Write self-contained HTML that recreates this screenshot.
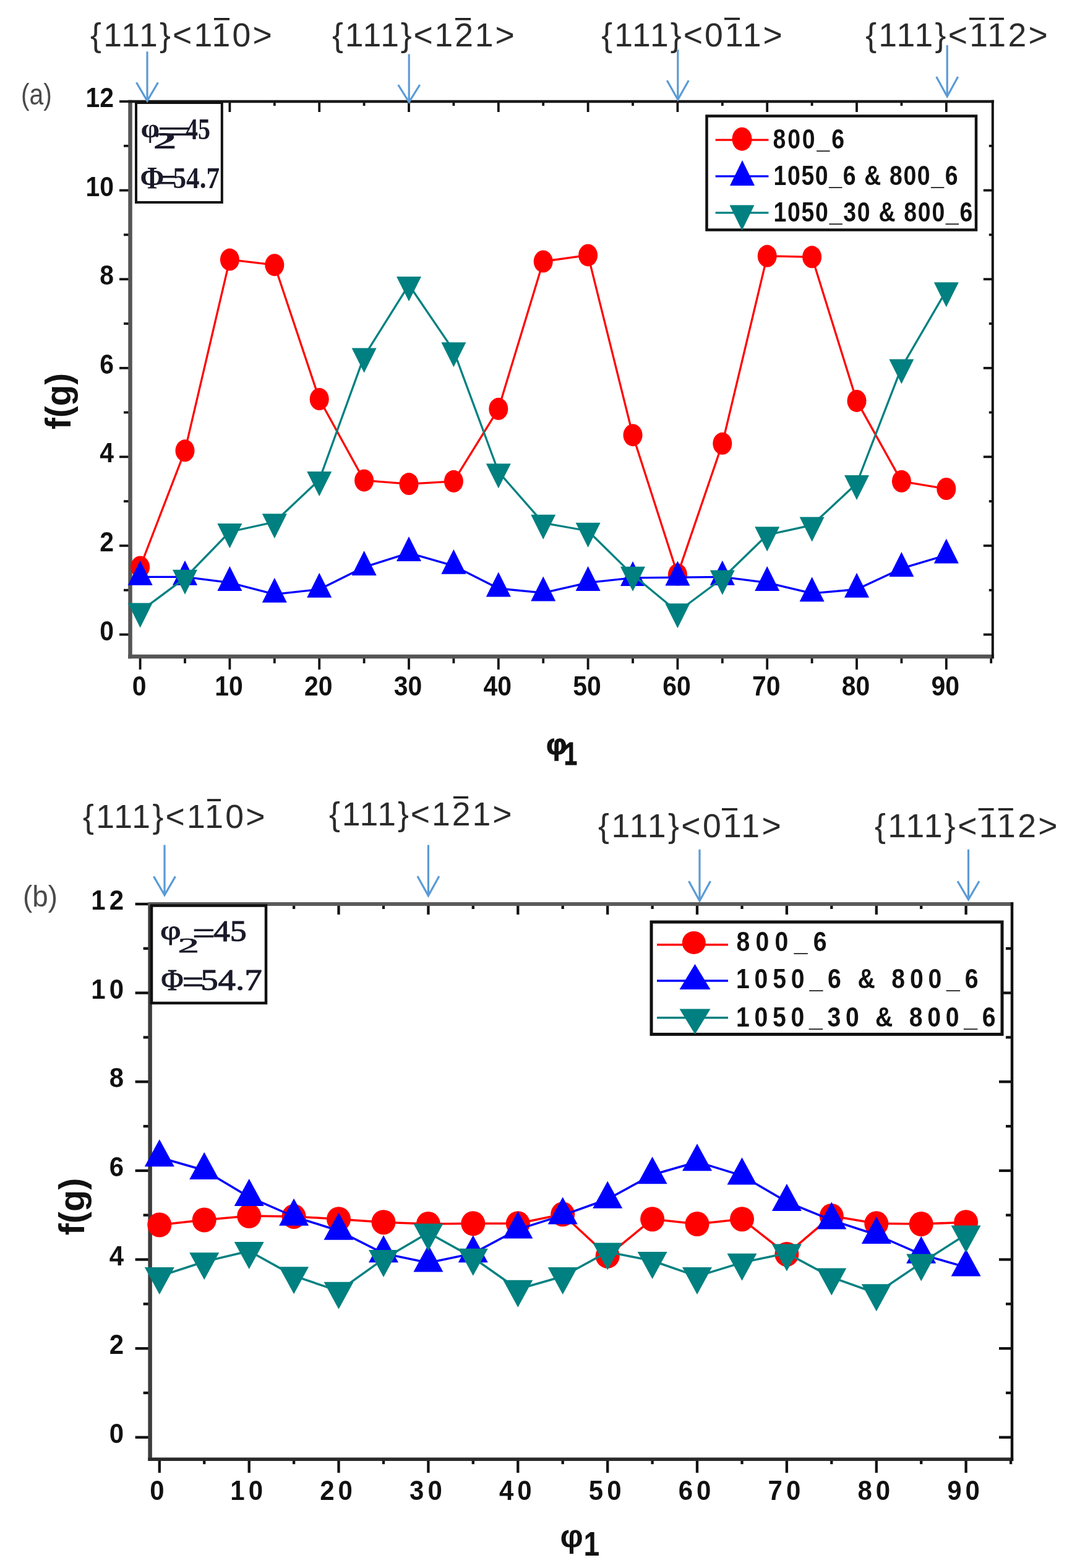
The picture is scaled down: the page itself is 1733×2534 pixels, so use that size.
<!DOCTYPE html>
<html><head><meta charset="utf-8"><title>ODF f(g) vs phi1</title>
<style>html,body{margin:0;padding:0;background:#fff;overflow:hidden;}svg{display:block;}</style>
</head><body>
<svg width="1733" height="2534" viewBox="0 0 1733 2534">
<rect x="0" y="0" width="1733" height="2534" fill="#fff"/>
<g font-family="Liberation Sans, Arial, sans-serif" font-weight="bold" font-size="44" fill="#111">
<line x1="226.6" y1="1061" x2="226.6" y2="1082" stroke="#111" stroke-width="3.8"/>
<line x1="226.6" y1="164" x2="226.6" y2="181" stroke="#111" stroke-width="3.8"/>
<line x1="299" y1="1061" x2="299" y2="1072" stroke="#111" stroke-width="3.8"/>
<line x1="299" y1="164" x2="299" y2="171" stroke="#111" stroke-width="3.8"/>
<line x1="371.4" y1="1061" x2="371.4" y2="1082" stroke="#111" stroke-width="3.8"/>
<line x1="371.4" y1="164" x2="371.4" y2="181" stroke="#111" stroke-width="3.8"/>
<line x1="443.8" y1="1061" x2="443.8" y2="1072" stroke="#111" stroke-width="3.8"/>
<line x1="443.8" y1="164" x2="443.8" y2="171" stroke="#111" stroke-width="3.8"/>
<line x1="516.2" y1="1061" x2="516.2" y2="1082" stroke="#111" stroke-width="3.8"/>
<line x1="516.2" y1="164" x2="516.2" y2="181" stroke="#111" stroke-width="3.8"/>
<line x1="588.6" y1="1061" x2="588.6" y2="1072" stroke="#111" stroke-width="3.8"/>
<line x1="588.6" y1="164" x2="588.6" y2="171" stroke="#111" stroke-width="3.8"/>
<line x1="661" y1="1061" x2="661" y2="1082" stroke="#111" stroke-width="3.8"/>
<line x1="661" y1="164" x2="661" y2="181" stroke="#111" stroke-width="3.8"/>
<line x1="733.4" y1="1061" x2="733.4" y2="1072" stroke="#111" stroke-width="3.8"/>
<line x1="733.4" y1="164" x2="733.4" y2="171" stroke="#111" stroke-width="3.8"/>
<line x1="805.8" y1="1061" x2="805.8" y2="1082" stroke="#111" stroke-width="3.8"/>
<line x1="805.8" y1="164" x2="805.8" y2="181" stroke="#111" stroke-width="3.8"/>
<line x1="878.2" y1="1061" x2="878.2" y2="1072" stroke="#111" stroke-width="3.8"/>
<line x1="878.2" y1="164" x2="878.2" y2="171" stroke="#111" stroke-width="3.8"/>
<line x1="950.6" y1="1061" x2="950.6" y2="1082" stroke="#111" stroke-width="3.8"/>
<line x1="950.6" y1="164" x2="950.6" y2="181" stroke="#111" stroke-width="3.8"/>
<line x1="1023" y1="1061" x2="1023" y2="1072" stroke="#111" stroke-width="3.8"/>
<line x1="1023" y1="164" x2="1023" y2="171" stroke="#111" stroke-width="3.8"/>
<line x1="1095.4" y1="1061" x2="1095.4" y2="1082" stroke="#111" stroke-width="3.8"/>
<line x1="1095.4" y1="164" x2="1095.4" y2="181" stroke="#111" stroke-width="3.8"/>
<line x1="1167.8" y1="1061" x2="1167.8" y2="1072" stroke="#111" stroke-width="3.8"/>
<line x1="1167.8" y1="164" x2="1167.8" y2="171" stroke="#111" stroke-width="3.8"/>
<line x1="1240.2" y1="1061" x2="1240.2" y2="1082" stroke="#111" stroke-width="3.8"/>
<line x1="1240.2" y1="164" x2="1240.2" y2="181" stroke="#111" stroke-width="3.8"/>
<line x1="1312.6" y1="1061" x2="1312.6" y2="1072" stroke="#111" stroke-width="3.8"/>
<line x1="1312.6" y1="164" x2="1312.6" y2="171" stroke="#111" stroke-width="3.8"/>
<line x1="1385" y1="1061" x2="1385" y2="1082" stroke="#111" stroke-width="3.8"/>
<line x1="1385" y1="164" x2="1385" y2="181" stroke="#111" stroke-width="3.8"/>
<line x1="1457.4" y1="1061" x2="1457.4" y2="1072" stroke="#111" stroke-width="3.8"/>
<line x1="1457.4" y1="164" x2="1457.4" y2="171" stroke="#111" stroke-width="3.8"/>
<line x1="1529.8" y1="1061" x2="1529.8" y2="1082" stroke="#111" stroke-width="3.8"/>
<line x1="1529.8" y1="164" x2="1529.8" y2="181" stroke="#111" stroke-width="3.8"/>
<line x1="1602.2" y1="1061" x2="1602.2" y2="1072" stroke="#111" stroke-width="3.8"/>
<line x1="193" y1="1025.5" x2="210.5" y2="1025.5" stroke="#111" stroke-width="3.8"/>
<line x1="1604.8" y1="1025.5" x2="1589.8" y2="1025.5" stroke="#111" stroke-width="3.8"/>
<line x1="200" y1="953.7" x2="210.5" y2="953.7" stroke="#111" stroke-width="3.8"/>
<line x1="1604.8" y1="953.7" x2="1598.8" y2="953.7" stroke="#111" stroke-width="3.8"/>
<line x1="193" y1="881.9" x2="210.5" y2="881.9" stroke="#111" stroke-width="3.8"/>
<line x1="1604.8" y1="881.9" x2="1589.8" y2="881.9" stroke="#111" stroke-width="3.8"/>
<line x1="200" y1="810.1" x2="210.5" y2="810.1" stroke="#111" stroke-width="3.8"/>
<line x1="1604.8" y1="810.1" x2="1598.8" y2="810.1" stroke="#111" stroke-width="3.8"/>
<line x1="193" y1="738.3" x2="210.5" y2="738.3" stroke="#111" stroke-width="3.8"/>
<line x1="1604.8" y1="738.3" x2="1589.8" y2="738.3" stroke="#111" stroke-width="3.8"/>
<line x1="200" y1="666.5" x2="210.5" y2="666.5" stroke="#111" stroke-width="3.8"/>
<line x1="1604.8" y1="666.5" x2="1598.8" y2="666.5" stroke="#111" stroke-width="3.8"/>
<line x1="193" y1="594.8" x2="210.5" y2="594.8" stroke="#111" stroke-width="3.8"/>
<line x1="1604.8" y1="594.8" x2="1589.8" y2="594.8" stroke="#111" stroke-width="3.8"/>
<line x1="200" y1="523" x2="210.5" y2="523" stroke="#111" stroke-width="3.8"/>
<line x1="1604.8" y1="523" x2="1598.8" y2="523" stroke="#111" stroke-width="3.8"/>
<line x1="193" y1="451.2" x2="210.5" y2="451.2" stroke="#111" stroke-width="3.8"/>
<line x1="1604.8" y1="451.2" x2="1589.8" y2="451.2" stroke="#111" stroke-width="3.8"/>
<line x1="200" y1="379.4" x2="210.5" y2="379.4" stroke="#111" stroke-width="3.8"/>
<line x1="1604.8" y1="379.4" x2="1598.8" y2="379.4" stroke="#111" stroke-width="3.8"/>
<line x1="193" y1="307.6" x2="210.5" y2="307.6" stroke="#111" stroke-width="3.8"/>
<line x1="1604.8" y1="307.6" x2="1589.8" y2="307.6" stroke="#111" stroke-width="3.8"/>
<line x1="200" y1="235.8" x2="210.5" y2="235.8" stroke="#111" stroke-width="3.8"/>
<line x1="1604.8" y1="235.8" x2="1598.8" y2="235.8" stroke="#111" stroke-width="3.8"/>
<line x1="193" y1="164" x2="210.5" y2="164" stroke="#111" stroke-width="3.8"/>
<line x1="210.5" y1="161.8" x2="210.5" y2="1064.2" stroke="#555" stroke-width="6.5"/>
<line x1="207.2" y1="1061" x2="1606.8" y2="1061" stroke="#555" stroke-width="6.5"/>
<line x1="207.2" y1="164" x2="1606.8" y2="164" stroke="#1a1a1a" stroke-width="4.5"/>
<line x1="1604.8" y1="161.8" x2="1604.8" y2="1064.2" stroke="#111" stroke-width="4"/>
<text transform="translate(225.1,1124) scale(0.93,1)" text-anchor="middle" style="letter-spacing:0.00px">0</text>
<text transform="translate(369.9,1124) scale(0.93,1)" text-anchor="middle" style="letter-spacing:0.00px">10</text>
<text transform="translate(514.7,1124) scale(0.93,1)" text-anchor="middle" style="letter-spacing:0.00px">20</text>
<text transform="translate(659.5,1124) scale(0.93,1)" text-anchor="middle" style="letter-spacing:0.00px">30</text>
<text transform="translate(804.3,1124) scale(0.93,1)" text-anchor="middle" style="letter-spacing:0.00px">40</text>
<text transform="translate(949.1,1124) scale(0.93,1)" text-anchor="middle" style="letter-spacing:0.00px">50</text>
<text transform="translate(1093.9,1124) scale(0.93,1)" text-anchor="middle" style="letter-spacing:0.00px">60</text>
<text transform="translate(1238.7,1124) scale(0.93,1)" text-anchor="middle" style="letter-spacing:0.00px">70</text>
<text transform="translate(1383.5,1124) scale(0.93,1)" text-anchor="middle" style="letter-spacing:0.00px">80</text>
<text transform="translate(1528.3,1124) scale(0.93,1)" text-anchor="middle" style="letter-spacing:0.00px">90</text>
<text transform="translate(184,1034.5) scale(0.93,1)" text-anchor="end" style="letter-spacing:0.00px">0</text>
<text transform="translate(184,890.9) scale(0.93,1)" text-anchor="end" style="letter-spacing:0.00px">2</text>
<text transform="translate(184,747.3) scale(0.93,1)" text-anchor="end" style="letter-spacing:0.00px">4</text>
<text transform="translate(184,603.8) scale(0.93,1)" text-anchor="end" style="letter-spacing:0.00px">6</text>
<text transform="translate(184,460.2) scale(0.93,1)" text-anchor="end" style="letter-spacing:0.00px">8</text>
<text transform="translate(184,316.6) scale(0.93,1)" text-anchor="end" style="letter-spacing:0.00px">10</text>
<text transform="translate(184,173) scale(0.93,1)" text-anchor="end" style="letter-spacing:0.00px">12</text>
</g>
<polyline points="226.6,916.4 299,728.3 371.4,419.6 443.8,428.2 516.2,645 588.6,776.4 661,782.1 733.4,777.8 805.8,660.8 878.2,422.5 950.6,412.4 1023,703.2 1095.4,928.6 1167.8,716.8 1240.2,413.8 1312.6,415.3 1385,647.9 1457.4,777.8 1529.8,790" fill="none" stroke="#ff0000" stroke-width="3.3" stroke-linejoin="round"/>
<ellipse cx="226.6" cy="916.4" rx="15.5" ry="18" fill="#ff0000"/>
<ellipse cx="299" cy="728.3" rx="15.5" ry="18" fill="#ff0000"/>
<ellipse cx="371.4" cy="419.6" rx="15.5" ry="18" fill="#ff0000"/>
<ellipse cx="443.8" cy="428.2" rx="15.5" ry="18" fill="#ff0000"/>
<ellipse cx="516.2" cy="645" rx="15.5" ry="18" fill="#ff0000"/>
<ellipse cx="588.6" cy="776.4" rx="15.5" ry="18" fill="#ff0000"/>
<ellipse cx="661" cy="782.1" rx="15.5" ry="18" fill="#ff0000"/>
<ellipse cx="733.4" cy="777.8" rx="15.5" ry="18" fill="#ff0000"/>
<ellipse cx="805.8" cy="660.8" rx="15.5" ry="18" fill="#ff0000"/>
<ellipse cx="878.2" cy="422.5" rx="15.5" ry="18" fill="#ff0000"/>
<ellipse cx="950.6" cy="412.4" rx="15.5" ry="18" fill="#ff0000"/>
<ellipse cx="1023" cy="703.2" rx="15.5" ry="18" fill="#ff0000"/>
<ellipse cx="1095.4" cy="928.6" rx="15.5" ry="18" fill="#ff0000"/>
<ellipse cx="1167.8" cy="716.8" rx="15.5" ry="18" fill="#ff0000"/>
<ellipse cx="1240.2" cy="413.8" rx="15.5" ry="18" fill="#ff0000"/>
<ellipse cx="1312.6" cy="415.3" rx="15.5" ry="18" fill="#ff0000"/>
<ellipse cx="1385" cy="647.9" rx="15.5" ry="18" fill="#ff0000"/>
<ellipse cx="1457.4" cy="777.8" rx="15.5" ry="18" fill="#ff0000"/>
<ellipse cx="1529.8" cy="790" rx="15.5" ry="18" fill="#ff0000"/>
<polyline points="226.6,932.4 299,932.4 371.4,941.7 443.8,960.4 516.2,952.5 588.6,916.6 661,893.6 733.4,914.4 805.8,951 878.2,958.2 950.6,941.7 1023,933.8 1095.4,933.1 1167.8,932.4 1240.2,941.7 1312.6,958.9 1385,952.5 1457.4,918.7 1529.8,897.2" fill="none" stroke="#0000ff" stroke-width="3.3" stroke-linejoin="round"/>
<polygon points="226.6,905.7 246.6,945.7 206.6,945.7" fill="#0000ff"/>
<polygon points="299,905.7 319,945.7 279,945.7" fill="#0000ff"/>
<polygon points="371.4,915 391.4,955 351.4,955" fill="#0000ff"/>
<polygon points="443.8,933.7 463.8,973.7 423.8,973.7" fill="#0000ff"/>
<polygon points="516.2,925.8 536.2,965.8 496.2,965.8" fill="#0000ff"/>
<polygon points="588.6,889.9 608.6,929.9 568.6,929.9" fill="#0000ff"/>
<polygon points="661,866.9 681,906.9 641,906.9" fill="#0000ff"/>
<polygon points="733.4,887.8 753.4,927.8 713.4,927.8" fill="#0000ff"/>
<polygon points="805.8,924.4 825.8,964.4 785.8,964.4" fill="#0000ff"/>
<polygon points="878.2,931.6 898.2,971.6 858.2,971.6" fill="#0000ff"/>
<polygon points="950.6,915 970.6,955 930.6,955" fill="#0000ff"/>
<polygon points="1023,907.1 1043,947.1 1003,947.1" fill="#0000ff"/>
<polygon points="1095.4,906.4 1115.4,946.4 1075.4,946.4" fill="#0000ff"/>
<polygon points="1167.8,905.7 1187.8,945.7 1147.8,945.7" fill="#0000ff"/>
<polygon points="1240.2,915 1260.2,955 1220.2,955" fill="#0000ff"/>
<polygon points="1312.6,932.3 1332.6,972.3 1292.6,972.3" fill="#0000ff"/>
<polygon points="1385,925.8 1405,965.8 1365,965.8" fill="#0000ff"/>
<polygon points="1457.4,892.1 1477.4,932.1 1437.4,932.1" fill="#0000ff"/>
<polygon points="1529.8,870.5 1549.8,910.5 1509.8,910.5" fill="#0000ff"/>
<polyline points="226.6,988 299,934.1 371.4,859.5 443.8,843.7 516.2,775.5 588.6,575.9 661,460.3 733.4,566.6 805.8,762.5 878.2,845.1 950.6,858 1023,929.1 1095.4,988.7 1167.8,934.8 1240.2,864.5 1312.6,848.7 1385,781.2 1457.4,593.8 1529.8,469.6" fill="none" stroke="#008080" stroke-width="3.3" stroke-linejoin="round"/>
<polygon points="206.6,974.6 246.6,974.6 226.6,1014.6" fill="#008080"/>
<polygon points="279,920.8 319,920.8 299,960.8" fill="#008080"/>
<polygon points="351.4,846.1 391.4,846.1 371.4,886.1" fill="#008080"/>
<polygon points="423.8,830.3 463.8,830.3 443.8,870.3" fill="#008080"/>
<polygon points="496.2,762.1 536.2,762.1 516.2,802.1" fill="#008080"/>
<polygon points="568.6,562.6 608.6,562.6 588.6,602.6" fill="#008080"/>
<polygon points="641,447 681,447 661,487" fill="#008080"/>
<polygon points="713.4,553.2 753.4,553.2 733.4,593.2" fill="#008080"/>
<polygon points="785.8,749.2 825.8,749.2 805.8,789.2" fill="#008080"/>
<polygon points="858.2,831.8 898.2,831.8 878.2,871.8" fill="#008080"/>
<polygon points="930.6,844.7 970.6,844.7 950.6,884.7" fill="#008080"/>
<polygon points="1003,915.8 1043,915.8 1023,955.8" fill="#008080"/>
<polygon points="1075.4,975.3 1115.4,975.3 1095.4,1015.3" fill="#008080"/>
<polygon points="1147.8,921.5 1187.8,921.5 1167.8,961.5" fill="#008080"/>
<polygon points="1220.2,851.2 1260.2,851.2 1240.2,891.2" fill="#008080"/>
<polygon points="1292.6,835.4 1332.6,835.4 1312.6,875.4" fill="#008080"/>
<polygon points="1365,767.9 1405,767.9 1385,807.9" fill="#008080"/>
<polygon points="1437.4,580.5 1477.4,580.5 1457.4,620.5" fill="#008080"/>
<polygon points="1509.8,456.3 1549.8,456.3 1529.8,496.3" fill="#008080"/>
<g font-family="Liberation Sans, Arial, sans-serif" font-weight="bold" font-size="45" fill="#111">
<line x1="257.8" y1="2358.2" x2="257.8" y2="2380.2" stroke="#111" stroke-width="4.3"/>
<line x1="257.8" y1="1461" x2="257.8" y2="1478" stroke="#111" stroke-width="4.3"/>
<line x1="330.2" y1="2358.2" x2="330.2" y2="2366.2" stroke="#111" stroke-width="4.3"/>
<line x1="330.2" y1="1461" x2="330.2" y2="1469" stroke="#111" stroke-width="4.3"/>
<line x1="402.7" y1="2358.2" x2="402.7" y2="2380.2" stroke="#111" stroke-width="4.3"/>
<line x1="402.7" y1="1461" x2="402.7" y2="1478" stroke="#111" stroke-width="4.3"/>
<line x1="475.1" y1="2358.2" x2="475.1" y2="2366.2" stroke="#111" stroke-width="4.3"/>
<line x1="475.1" y1="1461" x2="475.1" y2="1469" stroke="#111" stroke-width="4.3"/>
<line x1="547.5" y1="2358.2" x2="547.5" y2="2380.2" stroke="#111" stroke-width="4.3"/>
<line x1="547.5" y1="1461" x2="547.5" y2="1478" stroke="#111" stroke-width="4.3"/>
<line x1="620" y1="2358.2" x2="620" y2="2366.2" stroke="#111" stroke-width="4.3"/>
<line x1="620" y1="1461" x2="620" y2="1469" stroke="#111" stroke-width="4.3"/>
<line x1="692.4" y1="2358.2" x2="692.4" y2="2380.2" stroke="#111" stroke-width="4.3"/>
<line x1="692.4" y1="1461" x2="692.4" y2="1478" stroke="#111" stroke-width="4.3"/>
<line x1="764.8" y1="2358.2" x2="764.8" y2="2366.2" stroke="#111" stroke-width="4.3"/>
<line x1="764.8" y1="1461" x2="764.8" y2="1469" stroke="#111" stroke-width="4.3"/>
<line x1="837.3" y1="2358.2" x2="837.3" y2="2380.2" stroke="#111" stroke-width="4.3"/>
<line x1="837.3" y1="1461" x2="837.3" y2="1478" stroke="#111" stroke-width="4.3"/>
<line x1="909.7" y1="2358.2" x2="909.7" y2="2366.2" stroke="#111" stroke-width="4.3"/>
<line x1="909.7" y1="1461" x2="909.7" y2="1469" stroke="#111" stroke-width="4.3"/>
<line x1="982.2" y1="2358.2" x2="982.2" y2="2380.2" stroke="#111" stroke-width="4.3"/>
<line x1="982.2" y1="1461" x2="982.2" y2="1478" stroke="#111" stroke-width="4.3"/>
<line x1="1054.6" y1="2358.2" x2="1054.6" y2="2366.2" stroke="#111" stroke-width="4.3"/>
<line x1="1054.6" y1="1461" x2="1054.6" y2="1469" stroke="#111" stroke-width="4.3"/>
<line x1="1127" y1="2358.2" x2="1127" y2="2380.2" stroke="#111" stroke-width="4.3"/>
<line x1="1127" y1="1461" x2="1127" y2="1478" stroke="#111" stroke-width="4.3"/>
<line x1="1199.5" y1="2358.2" x2="1199.5" y2="2366.2" stroke="#111" stroke-width="4.3"/>
<line x1="1199.5" y1="1461" x2="1199.5" y2="1469" stroke="#111" stroke-width="4.3"/>
<line x1="1271.9" y1="2358.2" x2="1271.9" y2="2380.2" stroke="#111" stroke-width="4.3"/>
<line x1="1271.9" y1="1461" x2="1271.9" y2="1478" stroke="#111" stroke-width="4.3"/>
<line x1="1344.3" y1="2358.2" x2="1344.3" y2="2366.2" stroke="#111" stroke-width="4.3"/>
<line x1="1344.3" y1="1461" x2="1344.3" y2="1469" stroke="#111" stroke-width="4.3"/>
<line x1="1416.8" y1="2358.2" x2="1416.8" y2="2380.2" stroke="#111" stroke-width="4.3"/>
<line x1="1416.8" y1="1461" x2="1416.8" y2="1478" stroke="#111" stroke-width="4.3"/>
<line x1="1489.2" y1="2358.2" x2="1489.2" y2="2366.2" stroke="#111" stroke-width="4.3"/>
<line x1="1489.2" y1="1461" x2="1489.2" y2="1469" stroke="#111" stroke-width="4.3"/>
<line x1="1561.6" y1="2358.2" x2="1561.6" y2="2380.2" stroke="#111" stroke-width="4.3"/>
<line x1="1561.6" y1="1461" x2="1561.6" y2="1478" stroke="#111" stroke-width="4.3"/>
<line x1="1634.1" y1="2358.2" x2="1634.1" y2="2366.2" stroke="#111" stroke-width="4.3"/>
<line x1="218.6" y1="2322.8" x2="242.6" y2="2322.8" stroke="#111" stroke-width="4.3"/>
<line x1="1636" y1="2322.8" x2="1615" y2="2322.8" stroke="#111" stroke-width="4.3"/>
<line x1="231.6" y1="2251" x2="242.6" y2="2251" stroke="#111" stroke-width="4.3"/>
<line x1="1636" y1="2251" x2="1626" y2="2251" stroke="#111" stroke-width="4.3"/>
<line x1="218.6" y1="2179.2" x2="242.6" y2="2179.2" stroke="#111" stroke-width="4.3"/>
<line x1="1636" y1="2179.2" x2="1615" y2="2179.2" stroke="#111" stroke-width="4.3"/>
<line x1="231.6" y1="2107.3" x2="242.6" y2="2107.3" stroke="#111" stroke-width="4.3"/>
<line x1="1636" y1="2107.3" x2="1626" y2="2107.3" stroke="#111" stroke-width="4.3"/>
<line x1="218.6" y1="2035.5" x2="242.6" y2="2035.5" stroke="#111" stroke-width="4.3"/>
<line x1="1636" y1="2035.5" x2="1615" y2="2035.5" stroke="#111" stroke-width="4.3"/>
<line x1="231.6" y1="1963.7" x2="242.6" y2="1963.7" stroke="#111" stroke-width="4.3"/>
<line x1="1636" y1="1963.7" x2="1626" y2="1963.7" stroke="#111" stroke-width="4.3"/>
<line x1="218.6" y1="1891.9" x2="242.6" y2="1891.9" stroke="#111" stroke-width="4.3"/>
<line x1="1636" y1="1891.9" x2="1615" y2="1891.9" stroke="#111" stroke-width="4.3"/>
<line x1="231.6" y1="1820.1" x2="242.6" y2="1820.1" stroke="#111" stroke-width="4.3"/>
<line x1="1636" y1="1820.1" x2="1626" y2="1820.1" stroke="#111" stroke-width="4.3"/>
<line x1="218.6" y1="1748.2" x2="242.6" y2="1748.2" stroke="#111" stroke-width="4.3"/>
<line x1="1636" y1="1748.2" x2="1615" y2="1748.2" stroke="#111" stroke-width="4.3"/>
<line x1="231.6" y1="1676.4" x2="242.6" y2="1676.4" stroke="#111" stroke-width="4.3"/>
<line x1="1636" y1="1676.4" x2="1626" y2="1676.4" stroke="#111" stroke-width="4.3"/>
<line x1="218.6" y1="1604.6" x2="242.6" y2="1604.6" stroke="#111" stroke-width="4.3"/>
<line x1="1636" y1="1604.6" x2="1615" y2="1604.6" stroke="#111" stroke-width="4.3"/>
<line x1="231.6" y1="1532.8" x2="242.6" y2="1532.8" stroke="#111" stroke-width="4.3"/>
<line x1="1636" y1="1532.8" x2="1626" y2="1532.8" stroke="#111" stroke-width="4.3"/>
<line x1="218.6" y1="1461" x2="242.6" y2="1461" stroke="#111" stroke-width="4.3"/>
<line x1="242.6" y1="1458" x2="242.6" y2="2360.9" stroke="#3c3c3c" stroke-width="6.5"/>
<line x1="239.3" y1="2358.2" x2="1638.2" y2="2358.2" stroke="#2a2a2a" stroke-width="5.5"/>
<line x1="239.3" y1="1461" x2="1638.2" y2="1461" stroke="#5a5a5a" stroke-width="6"/>
<line x1="1636" y1="1458" x2="1636" y2="2360.9" stroke="#111" stroke-width="4.5"/>
<text transform="translate(256.8,2424) scale(0.933,1)" text-anchor="middle" style="letter-spacing:6.43px">0</text>
<text transform="translate(401.7,2424) scale(0.933,1)" text-anchor="middle" style="letter-spacing:6.43px">10</text>
<text transform="translate(546.5,2424) scale(0.933,1)" text-anchor="middle" style="letter-spacing:6.43px">20</text>
<text transform="translate(691.4,2424) scale(0.933,1)" text-anchor="middle" style="letter-spacing:6.43px">30</text>
<text transform="translate(836.3,2424) scale(0.933,1)" text-anchor="middle" style="letter-spacing:6.43px">40</text>
<text transform="translate(981.2,2424) scale(0.933,1)" text-anchor="middle" style="letter-spacing:6.43px">50</text>
<text transform="translate(1126,2424) scale(0.933,1)" text-anchor="middle" style="letter-spacing:6.43px">60</text>
<text transform="translate(1270.9,2424) scale(0.933,1)" text-anchor="middle" style="letter-spacing:6.43px">70</text>
<text transform="translate(1415.8,2424) scale(0.933,1)" text-anchor="middle" style="letter-spacing:6.43px">80</text>
<text transform="translate(1560.6,2424) scale(0.933,1)" text-anchor="middle" style="letter-spacing:6.43px">90</text>
<text transform="translate(206,2331.8) scale(0.933,1)" text-anchor="end" style="letter-spacing:6.43px">0</text>
<text transform="translate(206,2188.2) scale(0.933,1)" text-anchor="end" style="letter-spacing:6.43px">2</text>
<text transform="translate(206,2044.5) scale(0.933,1)" text-anchor="end" style="letter-spacing:6.43px">4</text>
<text transform="translate(206,1900.9) scale(0.933,1)" text-anchor="end" style="letter-spacing:6.43px">6</text>
<text transform="translate(206,1757.2) scale(0.933,1)" text-anchor="end" style="letter-spacing:6.43px">8</text>
<text transform="translate(206,1613.6) scale(0.933,1)" text-anchor="end" style="letter-spacing:6.43px">10</text>
<text transform="translate(206,1470) scale(0.933,1)" text-anchor="end" style="letter-spacing:6.43px">12</text>
</g>
<polyline points="257.8,1979.5 330.2,1971.6 402.7,1965.1 475.1,1965.9 547.5,1970.2 620,1975.2 692.4,1978.1 764.8,1977.3 837.3,1977.3 909.7,1962.3 982.2,2029.8 1054.6,1970.2 1127,1978.1 1199.5,1970.2 1271.9,2026.9 1344.3,1965.1 1416.8,1977.3 1489.2,1978.1 1561.6,1975.2" fill="none" stroke="#ff0000" stroke-width="3.5" stroke-linejoin="round"/>
<ellipse cx="257.8" cy="1979.5" rx="19.5" ry="20" fill="#ff0000"/>
<ellipse cx="330.2" cy="1971.6" rx="19.5" ry="20" fill="#ff0000"/>
<ellipse cx="402.7" cy="1965.1" rx="19.5" ry="20" fill="#ff0000"/>
<ellipse cx="475.1" cy="1965.9" rx="19.5" ry="20" fill="#ff0000"/>
<ellipse cx="547.5" cy="1970.2" rx="19.5" ry="20" fill="#ff0000"/>
<ellipse cx="620" cy="1975.2" rx="19.5" ry="20" fill="#ff0000"/>
<ellipse cx="692.4" cy="1978.1" rx="19.5" ry="20" fill="#ff0000"/>
<ellipse cx="764.8" cy="1977.3" rx="19.5" ry="20" fill="#ff0000"/>
<ellipse cx="837.3" cy="1977.3" rx="19.5" ry="20" fill="#ff0000"/>
<ellipse cx="909.7" cy="1962.3" rx="19.5" ry="20" fill="#ff0000"/>
<ellipse cx="982.2" cy="2029.8" rx="19.5" ry="20" fill="#ff0000"/>
<ellipse cx="1054.6" cy="1970.2" rx="19.5" ry="20" fill="#ff0000"/>
<ellipse cx="1127" cy="1978.1" rx="19.5" ry="20" fill="#ff0000"/>
<ellipse cx="1199.5" cy="1970.2" rx="19.5" ry="20" fill="#ff0000"/>
<ellipse cx="1271.9" cy="2026.9" rx="19.5" ry="20" fill="#ff0000"/>
<ellipse cx="1344.3" cy="1965.1" rx="19.5" ry="20" fill="#ff0000"/>
<ellipse cx="1416.8" cy="1977.3" rx="19.5" ry="20" fill="#ff0000"/>
<ellipse cx="1489.2" cy="1978.1" rx="19.5" ry="20" fill="#ff0000"/>
<ellipse cx="1561.6" cy="1975.2" rx="19.5" ry="20" fill="#ff0000"/>
<polyline points="257.8,1870.5 330.2,1891.3 402.7,1934.4 475.1,1966 547.5,1989 620,2025.6 692.4,2040.7 764.8,2025.6 837.3,1986.8 909.7,1963.9 982.2,1938 1054.6,1898.5 1127,1877.7 1199.5,1899.9 1271.9,1942.3 1344.3,1971.8 1416.8,1995.5 1489.2,2027.1 1561.6,2047.9" fill="none" stroke="#0000ff" stroke-width="3.5" stroke-linejoin="round"/>
<polygon points="257.8,1841.2 281.8,1885.2 233.8,1885.2" fill="#0000ff"/>
<polygon points="330.2,1862 354.2,1906 306.2,1906" fill="#0000ff"/>
<polygon points="402.7,1905.1 426.7,1949.1 378.7,1949.1" fill="#0000ff"/>
<polygon points="475.1,1936.7 499.1,1980.7 451.1,1980.7" fill="#0000ff"/>
<polygon points="547.5,1959.7 571.5,2003.7 523.5,2003.7" fill="#0000ff"/>
<polygon points="620,1996.3 644,2040.3 596,2040.3" fill="#0000ff"/>
<polygon points="692.4,2011.4 716.4,2055.4 668.4,2055.4" fill="#0000ff"/>
<polygon points="764.8,1996.3 788.8,2040.3 740.8,2040.3" fill="#0000ff"/>
<polygon points="837.3,1957.5 861.3,2001.5 813.3,2001.5" fill="#0000ff"/>
<polygon points="909.7,1934.5 933.7,1978.5 885.7,1978.5" fill="#0000ff"/>
<polygon points="982.2,1908.7 1006.2,1952.7 958.2,1952.7" fill="#0000ff"/>
<polygon points="1054.6,1869.2 1078.6,1913.2 1030.6,1913.2" fill="#0000ff"/>
<polygon points="1127,1848.3 1151,1892.3 1103,1892.3" fill="#0000ff"/>
<polygon points="1199.5,1870.6 1223.5,1914.6 1175.5,1914.6" fill="#0000ff"/>
<polygon points="1271.9,1913 1295.9,1957 1247.9,1957" fill="#0000ff"/>
<polygon points="1344.3,1942.4 1368.3,1986.4 1320.3,1986.4" fill="#0000ff"/>
<polygon points="1416.8,1966.1 1440.8,2010.1 1392.8,2010.1" fill="#0000ff"/>
<polygon points="1489.2,1997.7 1513.2,2041.7 1465.2,2041.7" fill="#0000ff"/>
<polygon points="1561.6,2018.5 1585.6,2062.5 1537.6,2062.5" fill="#0000ff"/>
<polyline points="257.8,2062.7 330.2,2039 402.7,2021.7 475.1,2061.9 547.5,2086.4 620,2034.7 692.4,1992.3 764.8,2032.5 837.3,2083.5 909.7,2062.7 982.2,2023.2 1054.6,2037.5 1127,2062.7 1199.5,2040.4 1271.9,2025.3 1344.3,2064.1 1416.8,2090 1489.2,2041.1 1561.6,1995.1" fill="none" stroke="#008080" stroke-width="3.5" stroke-linejoin="round"/>
<polygon points="233.8,2048 281.8,2048 257.8,2092" fill="#008080"/>
<polygon points="306.2,2024.3 354.2,2024.3 330.2,2068.3" fill="#008080"/>
<polygon points="378.7,2007.1 426.7,2007.1 402.7,2051.1" fill="#008080"/>
<polygon points="451.1,2047.3 499.1,2047.3 475.1,2091.3" fill="#008080"/>
<polygon points="523.5,2071.7 571.5,2071.7 547.5,2115.7" fill="#008080"/>
<polygon points="596,2020 644,2020 620,2064" fill="#008080"/>
<polygon points="668.4,1977.6 716.4,1977.6 692.4,2021.6" fill="#008080"/>
<polygon points="740.8,2017.8 788.8,2017.8 764.8,2061.8" fill="#008080"/>
<polygon points="813.3,2068.8 861.3,2068.8 837.3,2112.8" fill="#008080"/>
<polygon points="885.7,2048 933.7,2048 909.7,2092" fill="#008080"/>
<polygon points="958.2,2008.5 1006.2,2008.5 982.2,2052.5" fill="#008080"/>
<polygon points="1030.6,2022.9 1078.6,2022.9 1054.6,2066.9" fill="#008080"/>
<polygon points="1103,2048 1151,2048 1127,2092" fill="#008080"/>
<polygon points="1175.5,2025.7 1223.5,2025.7 1199.5,2069.7" fill="#008080"/>
<polygon points="1247.9,2010.6 1295.9,2010.6 1271.9,2054.6" fill="#008080"/>
<polygon points="1320.3,2049.4 1368.3,2049.4 1344.3,2093.4" fill="#008080"/>
<polygon points="1392.8,2075.3 1440.8,2075.3 1416.8,2119.3" fill="#008080"/>
<polygon points="1465.2,2026.4 1513.2,2026.4 1489.2,2070.4" fill="#008080"/>
<polygon points="1537.6,1980.5 1585.6,1980.5 1561.6,2024.5" fill="#008080"/>
<rect x="1142.5" y="187.5" width="435.5" height="184" fill="#fff" stroke="#111" stroke-width="4.5"/>
<line x1="1156.6" y1="226.2" x2="1242.4" y2="226.2" stroke="#ff0000" stroke-width="3.2"/>
<ellipse cx="1199.5" cy="224.7" rx="16" ry="19" fill="#ff0000"/>
<text class="t" x="0" y="0" transform="translate(1249.5,239.5) scale(0.84,1)" textLength="137.5" lengthAdjust="spacing" font-family="Liberation Sans, Arial, sans-serif" font-weight="bold" font-size="44.5" fill="#111">800_6</text>
<line x1="1156.6" y1="284.8" x2="1242.4" y2="284.8" stroke="#0000ff" stroke-width="3.2"/>
<polygon points="1200,258.9 1220,299.9 1180,299.9" fill="#0000ff"/>
<text class="t" x="0" y="0" transform="translate(1250.5,298.7) scale(0.84,1)" textLength="354.8" lengthAdjust="spacing" font-family="Liberation Sans, Arial, sans-serif" font-weight="bold" font-size="44.5" fill="#111">1050_6 &amp; 800_6</text>
<line x1="1156.6" y1="343.9" x2="1242.4" y2="343.9" stroke="#008080" stroke-width="3.2"/>
<polygon points="1179.5,331.4 1219.5,331.4 1199.5,372.4" fill="#008080"/>
<text class="t" x="0" y="0" transform="translate(1250.5,357.8) scale(0.84,1)" textLength="383.1" lengthAdjust="spacing" font-family="Liberation Sans, Arial, sans-serif" font-weight="bold" font-size="44.5" fill="#111">1050_30 &amp; 800_6</text>
<rect x="1053" y="1490" width="567" height="181.5" fill="#fff" stroke="#111" stroke-width="5"/>
<line x1="1062" y1="1526.7" x2="1177" y2="1526.7" stroke="#ff0000" stroke-width="3.5"/>
<ellipse cx="1121.8" cy="1523.4" rx="19" ry="18.5" fill="#ff0000"/>
<text class="t" x="0" y="0" transform="translate(1190.5,1536.7) scale(0.9,1)" textLength="162.2" lengthAdjust="spacing" font-family="Liberation Sans, Arial, sans-serif" font-weight="bold" font-size="43.5" fill="#111">800_6</text>
<line x1="1062" y1="1585" x2="1177" y2="1585" stroke="#0000ff" stroke-width="3.5"/>
<polygon points="1123.5,1558 1148.5,1599 1098.5,1599" fill="#0000ff"/>
<text class="t" x="0" y="0" transform="translate(1190,1597.1) scale(0.9,1)" textLength="435" lengthAdjust="spacing" font-family="Liberation Sans, Arial, sans-serif" font-weight="bold" font-size="43.5" fill="#111">1050_6 &amp; 800_6</text>
<line x1="1062" y1="1644.7" x2="1177" y2="1644.7" stroke="#008080" stroke-width="3.5"/>
<polygon points="1098.5,1630.5 1148.5,1630.5 1123.5,1671.5" fill="#008080"/>
<text class="t" x="0" y="0" transform="translate(1190,1658.8) scale(0.9,1)" textLength="466.1" lengthAdjust="spacing" font-family="Liberation Sans, Arial, sans-serif" font-weight="bold" font-size="43.5" fill="#111">1050_30 &amp; 800_6</text>
<rect x="220" y="166" width="138.8" height="161" fill="#fff" stroke="#111" stroke-width="4"/>
<text class="t" x="0" y="0" transform="matrix(1.2261 0 0 1.1179 227.57 221.94)" font-family="Liberation Serif, Times New Roman, serif" font-weight="bold" font-size="40" fill="#1a1a2a">&#966;</text>
<text class="t" x="0" y="0" transform="matrix(1.9312 0 0 0.9538 246.94 240.00)" font-family="Liberation Serif, Times New Roman, serif" font-weight="bold" font-size="40" fill="#1a1a2a">2</text>
<text class="t" x="0" y="0" transform="matrix(2.5947 0 0 1.2000 252.71 227.50)" font-family="Liberation Serif, Times New Roman, serif" font-weight="bold" font-size="40" fill="#1a1a2a">=</text>
<text class="t" x="0" y="0" transform="matrix(1.0000 0 0 1.2231 300.00 225.00)" font-family="Liberation Serif, Times New Roman, serif" font-weight="bold" font-size="40" fill="#1a1a2a">45</text>
<text class="t" x="0" y="0" transform="matrix(1.1733 0 0 1.2500 226.45 304.00)" font-family="Liberation Serif, Times New Roman, serif" font-weight="bold" font-size="40" fill="#1a1a2a">&#934;</text>
<text class="t" x="0" y="0" transform="matrix(1.3895 0 0 1.2818 254.22 307.25)" font-family="Liberation Serif, Times New Roman, serif" font-weight="bold" font-size="40" fill="#1a1a2a">=</text>
<text class="t" x="0" y="0" transform="matrix(1.0791 0 0 1.2346 279.54 304.00)" font-family="Liberation Serif, Times New Roman, serif" font-weight="bold" font-size="40" fill="#1a1a2a">54.7</text>
<rect x="245" y="1463.5" width="185" height="157.5" fill="#fff" stroke="#111" stroke-width="4.5"/>
<text class="t" x="0" y="0" transform="matrix(1.4579 0 0 1.0893 258.88 1517.70)" font-family="Liberation Serif, Times New Roman, serif" font-weight="normal" font-size="40" fill="#1a1a2a" stroke="#1a1a2a" stroke-width="0.9">&#966;</text>
<text class="t" x="0" y="0" transform="matrix(1.7250 0 0 0.8500 287.55 1538.60)" font-family="Liberation Serif, Times New Roman, serif" font-weight="normal" font-size="40" fill="#1a1a2a" stroke="#1a1a2a" stroke-width="0.9">2</text>
<text class="t" x="0" y="0" transform="matrix(1.6053 0 0 1.2500 311.29 1524.95)" font-family="Liberation Serif, Times New Roman, serif" font-weight="normal" font-size="40" fill="#1a1a2a" stroke="#1a1a2a" stroke-width="0.9">=</text>
<text class="t" x="0" y="0" transform="matrix(1.3459 0 0 1.2231 344.95 1521.30)" font-family="Liberation Serif, Times New Roman, serif" font-weight="normal" font-size="40" fill="#1a1a2a" stroke="#1a1a2a" stroke-width="0.9">45</text>
<text class="t" x="0" y="0" transform="matrix(1.2296 0 0 1.1962 260.57 1599.50)" font-family="Liberation Serif, Times New Roman, serif" font-weight="normal" font-size="40" fill="#1a1a2a" stroke="#1a1a2a" stroke-width="0.9">&#934;</text>
<text class="t" x="0" y="0" transform="matrix(1.5316 0 0 1.3800 294.74 1605.02)" font-family="Liberation Serif, Times New Roman, serif" font-weight="normal" font-size="40" fill="#1a1a2a" stroke="#1a1a2a" stroke-width="0.9">=</text>
<text class="t" x="0" y="0" transform="matrix(1.4239 0 0 1.1962 324.15 1599.50)" font-family="Liberation Serif, Times New Roman, serif" font-weight="normal" font-size="40" fill="#1a1a2a" stroke="#1a1a2a" stroke-width="0.9">54.7</text>
<text class="t" x="146.1" y="75" font-family="Liberation Sans, Arial, sans-serif" font-size="53.5" fill="#2b2b2b" style="letter-spacing:3.19px">{111}&lt;110&gt;</text>
<line x1="346" y1="30.8" x2="371" y2="30.8" stroke="#1e1e1e" stroke-width="3.6"/>
<line x1="238" y1="83.3" x2="238" y2="163" stroke="#5b9bd5" stroke-width="3.2"/>
<polyline points="220.5,133.2 238,163 255.5,133.2" fill="none" stroke="#5b9bd5" stroke-width="3.2" stroke-linejoin="miter"/>
<text class="t" x="537.1" y="75" font-family="Liberation Sans, Arial, sans-serif" font-size="53.5" fill="#2b2b2b" style="letter-spacing:2.87px">{111}&lt;121&gt;</text>
<line x1="736" y1="30.8" x2="761" y2="30.8" stroke="#1e1e1e" stroke-width="3.6"/>
<line x1="661.2" y1="87.5" x2="661.2" y2="165" stroke="#5b9bd5" stroke-width="3.2"/>
<polyline points="643.7,137 661.2,165 678.7,137" fill="none" stroke="#5b9bd5" stroke-width="3.2" stroke-linejoin="miter"/>
<text class="t" x="972.3" y="75" font-family="Liberation Sans, Arial, sans-serif" font-size="53.5" fill="#2b2b2b" style="letter-spacing:3.08px">{111}&lt;011&gt;</text>
<line x1="1171" y1="30.4" x2="1196" y2="30.4" stroke="#1e1e1e" stroke-width="3.6"/>
<line x1="1095.8" y1="80.2" x2="1095.8" y2="161" stroke="#5b9bd5" stroke-width="3.2"/>
<polyline points="1078.3,130 1095.8,161 1113.3,130" fill="none" stroke="#5b9bd5" stroke-width="3.2" stroke-linejoin="miter"/>
<text class="t" x="1399.2" y="75" font-family="Liberation Sans, Arial, sans-serif" font-size="53.5" fill="#2b2b2b" style="letter-spacing:3.30px">{111}&lt;112&gt;</text>
<line x1="1567" y1="30.4" x2="1592" y2="30.4" stroke="#1e1e1e" stroke-width="3.6"/>
<line x1="1599" y1="30.4" x2="1623" y2="30.4" stroke="#1e1e1e" stroke-width="3.6"/>
<line x1="1531.2" y1="73" x2="1531.2" y2="156" stroke="#5b9bd5" stroke-width="3.2"/>
<polyline points="1513.7,124 1531.2,156 1548.7,124" fill="none" stroke="#5b9bd5" stroke-width="3.2" stroke-linejoin="miter"/>
<text class="t" x="134" y="1337.5" font-family="Liberation Sans, Arial, sans-serif" font-size="53.5" fill="#2b2b2b" style="letter-spacing:3.30px">{111}&lt;110&gt;</text>
<line x1="335" y1="1293" x2="357" y2="1293" stroke="#1e1e1e" stroke-width="3.6"/>
<line x1="266" y1="1365.5" x2="266" y2="1446.5" stroke="#5b9bd5" stroke-width="3.2"/>
<polyline points="248.5,1416.4 266,1446.5 283.5,1416.4" fill="none" stroke="#5b9bd5" stroke-width="3.2" stroke-linejoin="miter"/>
<text class="t" x="531.9" y="1334.4" font-family="Liberation Sans, Arial, sans-serif" font-size="53.5" fill="#2b2b2b" style="letter-spacing:2.98px">{111}&lt;121&gt;</text>
<line x1="733" y1="1288.7" x2="757" y2="1288.7" stroke="#1e1e1e" stroke-width="3.6"/>
<line x1="692.4" y1="1365.5" x2="692.4" y2="1447.6" stroke="#5b9bd5" stroke-width="3.2"/>
<polyline points="674.9,1416 692.4,1447.6 709.9,1416" fill="none" stroke="#5b9bd5" stroke-width="3.2" stroke-linejoin="miter"/>
<text class="t" x="967.1" y="1353" font-family="Liberation Sans, Arial, sans-serif" font-size="53.5" fill="#2b2b2b" style="letter-spacing:3.42px">{111}&lt;011&gt;</text>
<line x1="1167" y1="1307.9" x2="1192" y2="1307.9" stroke="#1e1e1e" stroke-width="3.6"/>
<line x1="1131" y1="1372.8" x2="1131" y2="1455.9" stroke="#5b9bd5" stroke-width="3.2"/>
<polyline points="1113.5,1424 1131,1455.9 1148.5,1424" fill="none" stroke="#5b9bd5" stroke-width="3.2" stroke-linejoin="miter"/>
<text class="t" x="1414" y="1353" font-family="Liberation Sans, Arial, sans-serif" font-size="53.5" fill="#2b2b2b" style="letter-spacing:3.42px">{111}&lt;112&gt;</text>
<line x1="1581.7" y1="1307.9" x2="1606.6" y2="1307.9" stroke="#1e1e1e" stroke-width="3.6"/>
<line x1="1614" y1="1307.9" x2="1637.8" y2="1307.9" stroke="#1e1e1e" stroke-width="3.6"/>
<line x1="1565.5" y1="1372.8" x2="1565.5" y2="1453.8" stroke="#5b9bd5" stroke-width="3.2"/>
<polyline points="1548,1424 1565.5,1453.8 1583,1424" fill="none" stroke="#5b9bd5" stroke-width="3.2" stroke-linejoin="miter"/>
<text class="t" x="34" y="168.5" font-family="Liberation Sans, Arial, sans-serif" font-size="49" fill="#4a4a4a" textLength="50" lengthAdjust="spacingAndGlyphs">(a)</text>
<text class="t" x="37" y="1464.5" font-family="Liberation Sans, Arial, sans-serif" font-size="49" fill="#4a4a4a" textLength="56" lengthAdjust="spacingAndGlyphs">(b)</text>
<text class="t" transform="translate(113.5,648.4) rotate(-90)" text-anchor="middle" font-family="Liberation Sans, Arial, sans-serif" font-weight="bold" font-size="56.5" fill="#111">f(g)</text>
<text class="t" transform="translate(135.5,1950) rotate(-90)" text-anchor="middle" font-family="Liberation Sans, Arial, sans-serif" font-weight="bold" font-size="57.5" fill="#111">f(g)</text>
<text class="t" x="0" y="0" transform="matrix(0.9633 0 0 0.9694 883.27 1218.61)" font-family="Liberation Sans, Arial, sans-serif" font-weight="bold" font-size="48" fill="#111" stroke="#111" stroke-width="1.4">&#966;</text>
<text class="t" x="0" y="0" transform="matrix(0.8000 0 0 1.0667 911.70 1235.50)" font-family="Liberation Sans, Arial, sans-serif" font-weight="bold" font-size="48" fill="#111" stroke="#111" stroke-width="1.0">1</text>
<text class="t" x="0" y="0" transform="matrix(1.0867 0 0 1.0778 905.43 2499.72)" font-family="Liberation Sans, Arial, sans-serif" font-weight="bold" font-size="48" fill="#111">&#966;</text>
<text class="t" x="0" y="0" transform="matrix(0.9636 0 0 1.1394 943.41 2513.60)" font-family="Liberation Sans, Arial, sans-serif" font-weight="bold" font-size="48" fill="#111">1</text>
</svg>
</body></html>
